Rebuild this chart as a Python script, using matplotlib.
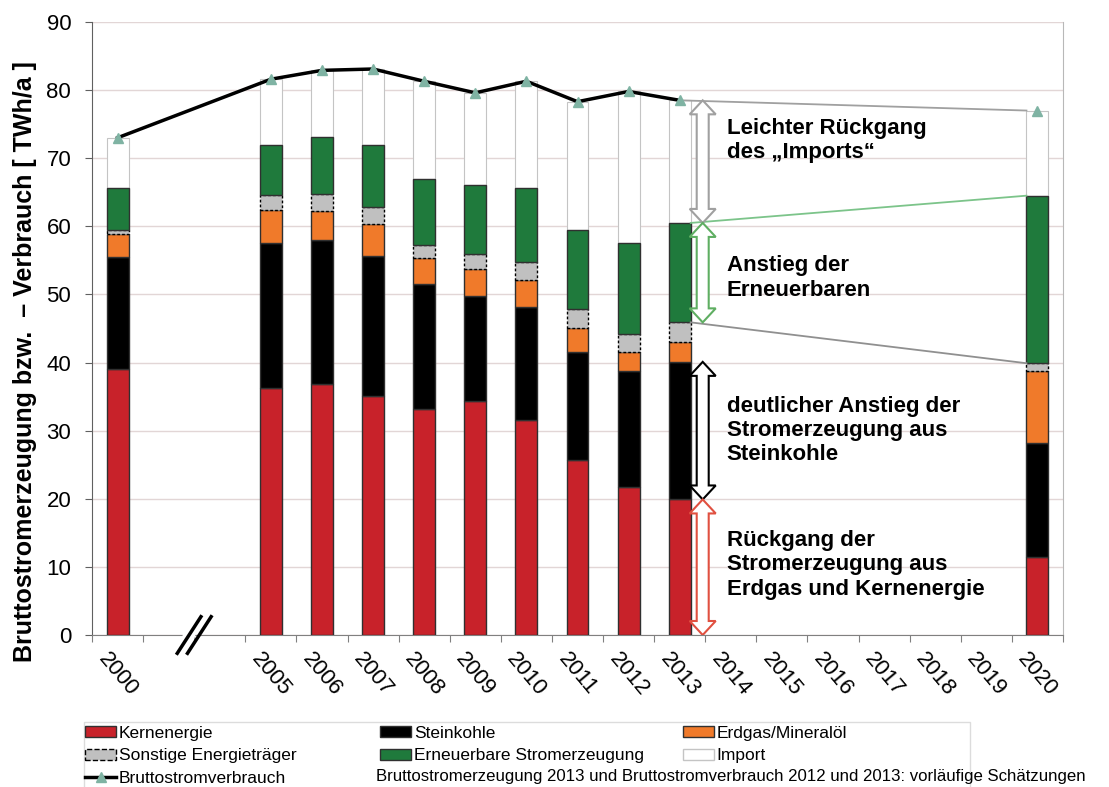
import matplotlib
matplotlib.use('Agg')
import matplotlib.pyplot as plt
import numpy as np
from matplotlib.patches import Patch, Polygon, Rectangle
from matplotlib.lines import Line2D

plt.rcParams['font.family'] = ['Liberation Sans', 'DejaVu Sans']

# category slots on the x axis (two empty slots stand for the axis break)
tick_labels = ['2000', '', '', '2005', '2006', '2007', '2008', '2009', '2010', '2011',
               '2012', '2013', '2014', '2015', '2016', '2017', '2018', '2019', '2020']
bar_years = ['2000', '2005', '2006', '2007', '2008', '2009', '2010', '2011', '2012', '2013', '2020']

# TWh/a
kern = [39.0, 36.2, 36.8, 35.1, 33.2, 34.3, 31.6, 25.7, 21.8, 19.9, 11.4]
stein = [16.5, 21.3, 21.2, 20.6, 18.3, 15.5, 16.6, 15.8, 16.9, 20.2, 16.8]
erdgas = [3.4, 4.9, 4.2, 4.7, 3.8, 3.9, 3.9, 3.5, 2.8, 2.9, 10.5]
sonstige = [0.5, 2.2, 2.6, 2.5, 2.0, 2.2, 2.6, 2.8, 2.7, 2.9, 1.2]
erneuerbar = [6.3, 7.4, 8.3, 9.1, 9.6, 10.1, 11.0, 11.6, 13.4, 14.6, 24.6]
verbrauch = [73.0, 81.6, 82.9, 83.1, 81.3, 79.6, 81.3, 78.3, 79.8, 78.5, 77.0]

RED = '#c8222a'
ORANGE = '#f07a2a'
GREEN = '#1f7a3c'
GREY = '#c0c0c0'
TEAL = '#7fb3a3'

W, H = 1109, 787
fig = plt.figure(figsize=(W / 100, H / 100), dpi=100)
fig.subplots_adjust(left=92 / W, right=1063 / W, top=1 - 22 / H, bottom=1 - 635 / H)
ax = fig.add_subplot(111)

x = np.array([tick_labels.index(y) for y in bar_years])
kern = np.array(kern)
stein = np.array(stein)
erdgas = np.array(erdgas)
sonstige = np.array(sonstige)
erneuerbar = np.array(erneuerbar)
verbrauch = np.array(verbrauch)
erzeugung = kern + stein + erdgas + sonstige + erneuerbar
imp = verbrauch - erzeugung

bw = 0.43
edge = '#303030'
ax.bar(x, kern, bw, color=RED, edgecolor=edge, lw=1, zorder=3)
ax.bar(x, stein, bw, bottom=kern, color='black', edgecolor=edge, lw=1, zorder=3)
b = kern + stein
ax.bar(x, erdgas, bw, bottom=b, color=ORANGE, edgecolor=edge, lw=1, zorder=3)
b = b + erdgas
ax.bar(x, sonstige, bw, bottom=b, color=GREY, edgecolor='black', lw=1, ls=(0, (2, 1.5)), zorder=3)
b = b + sonstige
ax.bar(x, erneuerbar, bw, bottom=b, color=GREEN, edgecolor=edge, lw=1, zorder=3)
b = b + erneuerbar
ax.bar(x, imp, bw, bottom=b, color='white', edgecolor='#c4c4c4', lw=0.8, zorder=2)

# Bruttostromverbrauch line (up to 2013), 2020 only as marker
ax.plot(x[:-1], verbrauch[:-1], color='black', lw=2.5, zorder=5)
ax.plot(x, verbrauch, ls='none', marker='^', ms=7, color=TEAL, zorder=6)

# connection lines 2013 -> 2020
i13, i20 = len(x) - 2, len(x) - 1
ax.plot([x[i13], x[i20] - bw / 2], [verbrauch[i13], verbrauch[i20]], color='#a0a0a0', lw=1.3, zorder=4)
ax.plot([x[i13] + bw / 2, x[i20] - bw / 2], [erzeugung[i13], erzeugung[i20]], color='#7cc48a', lw=1.3, zorder=4)
g13 = erzeugung[i13] - erneuerbar[i13]
g20 = erzeugung[i20] - erneuerbar[i20]
ax.plot([x[i13] + bw / 2, x[i20] - bw / 2], [g13, g20], color='#909090', lw=1.3, zorder=4)

ax.set_xlim(-0.5, len(tick_labels) - 0.5)
ax.set_ylim(0, 90)
ax.set_yticks(np.arange(0, 91, 10))
ax.yaxis.grid(True, color='#e2d6d6', lw=1, zorder=0)
ax.set_axisbelow(True)
ax.tick_params(axis='y', labelsize=16, length=5, color='#606060', pad=10)

ax.set_xticks(np.arange(-0.5, len(tick_labels), 1.0))
ax.set_xticklabels([])
ax.tick_params(axis='x', which='major', length=5, color='#808080')
ax.set_xticks(np.arange(len(tick_labels)), minor=True)
ax.set_xticklabels(tick_labels, minor=True, rotation=-50, ha='center', va='top', fontsize=16)
ax.tick_params(axis='x', which='minor', length=0, pad=10)

ax.spines['top'].set_visible(False)
ax.spines['left'].set_color('#606060')
ax.spines['bottom'].set_color('#808080')
ax.spines['right'].set_color('#b8b8b8')

# axis break "//"
bx = 1.5
ax.add_patch(Polygon([(bx - 0.35, -2.9), (bx - 0.1, 2.9), (bx + 0.15, 2.9), (bx - 0.1, -2.9)],
                     closed=True, fc='white', ec='none', clip_on=False, zorder=7))
for d in (-0.1, 0.1):
    ax.plot([bx + d - 0.25, bx + d + 0.25], [-2.9, 2.9], color='black', lw=2.5,
            clip_on=False, zorder=8, solid_capstyle='butt')


def darrow(xc, y0, y1, color):
    t = ax.transData
    px, py0 = t.transform((xc, y0))
    _, py1 = t.transform((xc, y1))
    hw, sw, hl = 13, 6, 14
    top, bot = max(py0, py1), min(py0, py1)
    pts = [(px, top), (px + hw, top - hl), (px + sw, top - hl), (px + sw, bot + hl),
           (px + hw, bot + hl), (px, bot), (px - hw, bot + hl), (px - sw, bot + hl),
           (px - sw, top - hl), (px - hw, top - hl)]
    pts = t.inverted().transform(pts)
    ax.add_patch(Polygon(pts, closed=True, fc='white', ec=color, lw=1.5, zorder=6))


ax_x = x[i13] + 0.45
darrow(ax_x, verbrauch[i13], erzeugung[i13], '#a0a0a0')
darrow(ax_x, erzeugung[i13], g13, '#5fae62')
darrow(ax_x, kern[i13] + stein[i13], kern[i13], 'black')
darrow(ax_x, kern[i13], 0, '#e05040')

tx = x[i13] + 0.92
txt_kw = dict(fontsize=16, fontweight='bold', va='center', ha='left', linespacing=1.2, zorder=7)
ax.text(tx, 72.6, 'Leichter Rückgang\ndes \u201eImports\u201c', **txt_kw)
ax.text(tx, 52.4, 'Anstieg der\nErneuerbaren', **txt_kw)
ax.text(tx, 30.0, 'deutlicher Anstieg der\nStromerzeugung aus\nSteinkohle', **txt_kw)
ax.text(tx, 10.3, 'Rückgang der\nStromerzeugung aus\nErdgas und Kernenergie', **txt_kw)

fig.text(25 / W, 1 - 362 / H, 'Bruttostromerzeugung bzw.  \u2013 Verbrauch [ TWh/a ]',
         rotation=90, ha='center', va='center', fontsize=18, fontweight='bold')

# legend
h_kern = Patch(fc=RED, ec=edge)
h_sonst = Patch(fc=GREY, ec='black', ls='--')
h_line = Line2D([], [], color='black', lw=2.5, marker='^', ms=7, mfc=TEAL, mec=TEAL)
h_stein = Patch(fc='black', ec=edge)
h_ern = Patch(fc=GREEN, ec=edge)
h_erd = Patch(fc=ORANGE, ec=edge)
h_imp = Patch(fc='white', ec='#c4c4c4')
leg_kw = dict(loc='upper left', frameon=False, borderpad=0, borderaxespad=0, handlelength=1.8,
              handleheight=0.6, handletextpad=0.15, labelspacing=0.42, fontsize=12.5)
fig.legend([h_kern, h_sonst, h_line], ['Kernenergie', 'Sonstige Energieträger', 'Bruttostromverbrauch'],
           bbox_to_anchor=(85 / W, 1 - 726 / H), **leg_kw)
fig.legend([h_stein, h_ern], ['Steinkohle', 'Erneuerbare Stromerzeugung'],
           bbox_to_anchor=(380 / W, 1 - 726 / H), **leg_kw)
fig.legend([h_erd, h_imp], ['Erdgas/Mineralöl', 'Import'],
           bbox_to_anchor=(683 / W, 1 - 726 / H), **leg_kw)
fig.text(376 / W, 1 - 776 / H,
         'Bruttostromerzeugung 2013 und Bruttostromverbrauch 2012 und 2013: vorläufige Schätzungen',
         fontsize=12.1, va='center')
fig.add_artist(Rectangle((84 / W, -0.02), (970 - 84) / W, (787 - 722) / H + 0.02,
                         transform=fig.transFigure, fill=False, ec='#dcdcdc', lw=1))

fig.savefig('out.png', dpi=100)
